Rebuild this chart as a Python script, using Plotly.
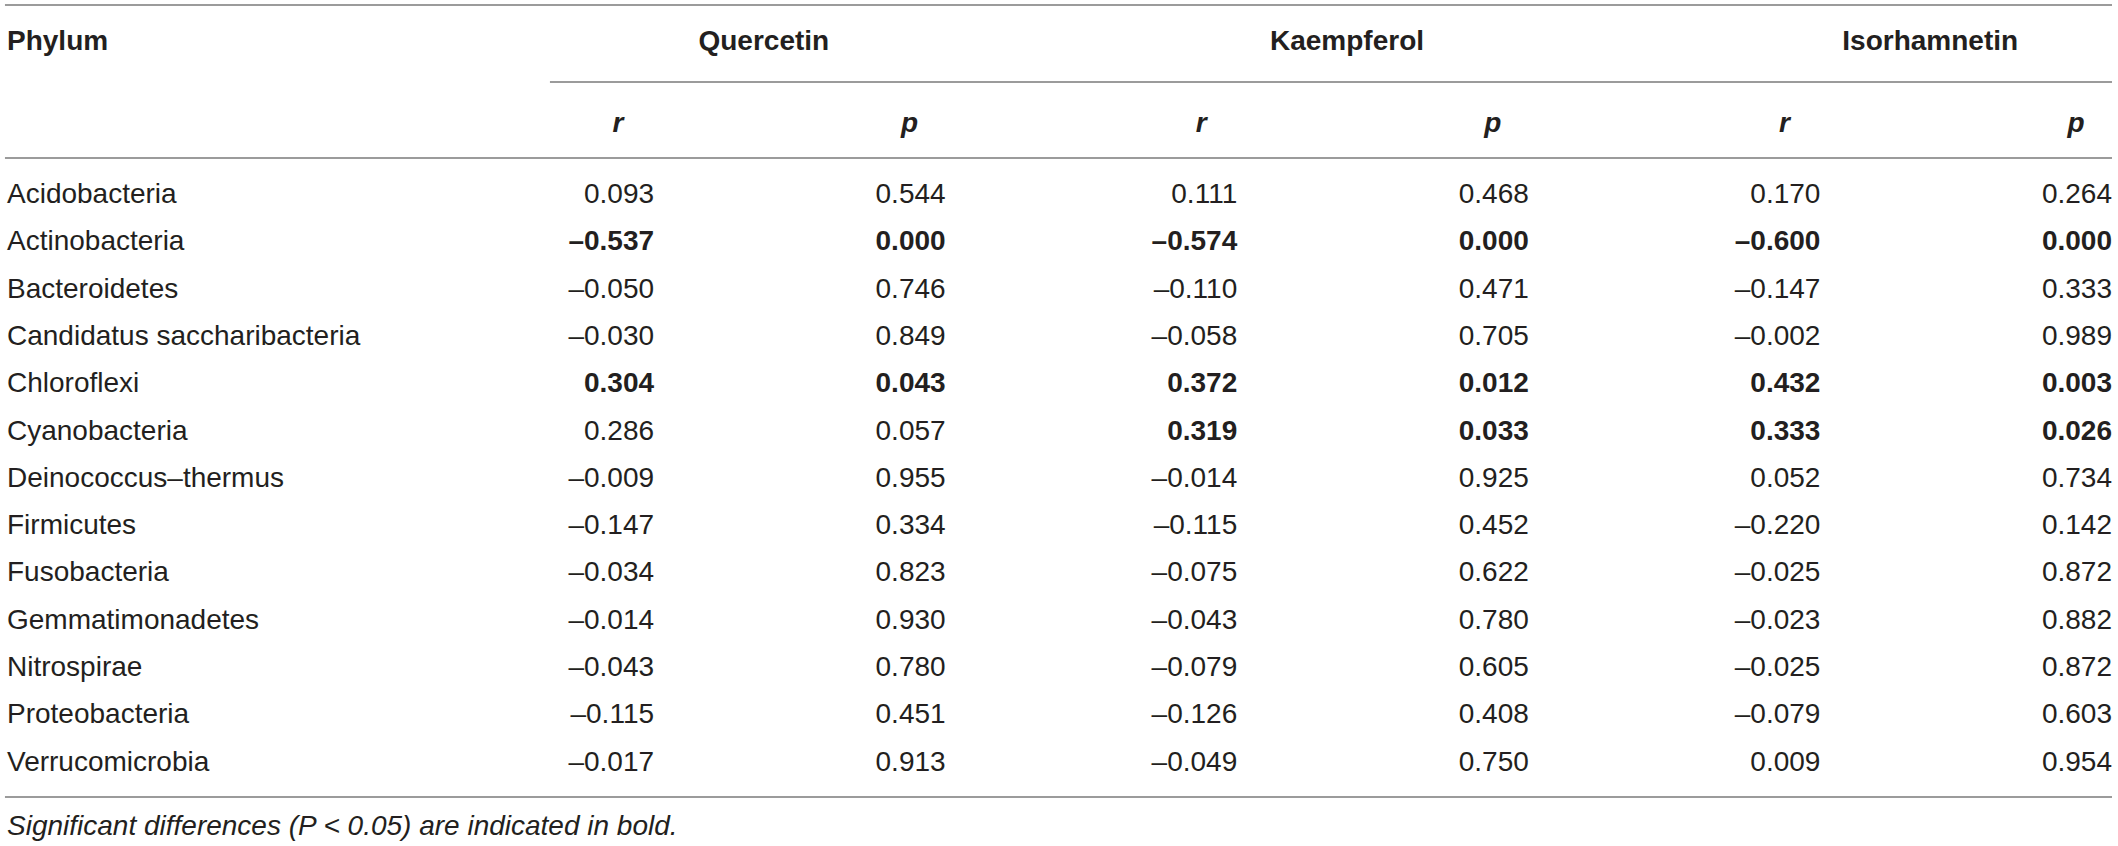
import plotly.graph_objects as go

# Daten der Tabelle
phyla = [
    "Acidobacteria", "Actinobacteria", "Bacteroidetes", "Candidatus saccharibacteria",
    "Chloroflexi", "Cyanobacteria", "Deinococcus–thermus", "Firmicutes",
    "Fusobacteria", "Gemmatimonadetes", "Nitrospirae", "Proteobacteria", "Verrucomicrobia",
]
compounds = ["Quercetin", "Kaempferol", "Isorhamnetin"]

quercetin_r = [0.093, -0.537, -0.050, -0.030, 0.304, 0.286, -0.009, -0.147, -0.034, -0.014, -0.043, -0.115, -0.017]
quercetin_p = [0.544, 0.000, 0.746, 0.849, 0.043, 0.057, 0.955, 0.334, 0.823, 0.930, 0.780, 0.451, 0.913]
kaempferol_r = [0.111, -0.574, -0.110, -0.058, 0.372, 0.319, -0.014, -0.115, -0.075, -0.043, -0.079, -0.126, -0.049]
kaempferol_p = [0.468, 0.000, 0.471, 0.705, 0.012, 0.033, 0.925, 0.452, 0.622, 0.780, 0.605, 0.408, 0.750]
isorhamnetin_r = [0.170, -0.600, -0.147, -0.002, 0.432, 0.333, 0.052, -0.220, -0.025, -0.023, -0.025, -0.079, 0.009]
isorhamnetin_p = [0.264, 0.000, 0.333, 0.989, 0.003, 0.026, 0.734, 0.142, 0.872, 0.882, 0.872, 0.603, 0.954]

footnote = "Significant differences (P < 0.05) are indicated in bold."

# Layout-Konstanten
FONT = "Liberation Sans, Arial, sans-serif"
TXT = "#231f20"
RULE = "#7a7a7a"
SIZE = 28
LEFT = -1.219  # x der ersten Spalte (Spaltenindex-Achse)

series = [(quercetin_r, quercetin_p), (kaempferol_r, kaempferol_p), (isorhamnetin_r, isorhamnetin_p)]
rows = list(range(len(phyla)))


def fmt(v, bold):
    s = f"{v:.3f}".replace("-", "–")
    return f"<b>{s}</b>" if bold else s


fig = go.Figure()

# Erste Spalte: Phylum
fig.add_trace(go.Scatter(
    x=[LEFT] * len(phyla), y=rows, text=phyla, mode="text",
    textposition="middle right", textfont=dict(family=FONT, size=SIZE, color=TXT),
    hoverinfo="skip", showlegend=False,
))

# Zahlenspalten (fett wenn p < 0.05)
col = 1
for r_vals, p_vals in series:
    sig = [p < 0.05 for p in p_vals]
    for vals in (r_vals, p_vals):
        fig.add_trace(go.Scatter(
            x=[col] * len(vals), y=rows, text=[fmt(v, b) for v, b in zip(vals, sig)],
            mode="text", textposition="middle left",
            textfont=dict(family=FONT, size=SIZE, color=TXT),
            hoverinfo="skip", showlegend=False,
        ))
        col += 1

# Kopfzeilen
head_font = dict(family=FONT, size=SIZE, color=TXT)
fig.add_trace(go.Scatter(
    x=[LEFT], y=[-3.235], text=["<b>Phylum</b>"], mode="text",
    textposition="middle right", textfont=head_font, hoverinfo="skip", showlegend=False,
))
sub_x = [c - 0.1235 for c in range(1, 7)]
fig.add_trace(go.Scatter(
    x=sub_x, y=[-1.5] * 6, text=["<b><i>r</i></b>", "<b><i>p</i></b>"] * 3, mode="text",
    textposition="middle center", textfont=head_font, hoverinfo="skip", showlegend=False,
))
fig.add_trace(go.Scatter(
    x=[(sub_x[2 * i] + sub_x[2 * i + 1]) / 2 for i in range(3)], y=[-3.235] * 3,
    text=[f"<b>{c}</b>" for c in compounds], mode="text",
    textposition="middle center", textfont=head_font, hoverinfo="skip", showlegend=False,
))

# Fussnote
fig.add_trace(go.Scatter(
    x=[LEFT], y=[13.36], text=[f"<i>{footnote}</i>"], mode="text",
    textposition="middle right", textfont=dict(family=FONT, size=SIZE, color=TXT),
    hoverinfo="skip", showlegend=False,
))

# Linien
for y0, x0 in [(-4.038, -1.226), (-2.41, 0.643), (-0.803, -1.226), (12.706, -1.226)]:
    fig.add_shape(type="line", x0=x0, x1=6.0, y0=y0, y1=y0,
                  line=dict(color=RULE, width=1.5))

fig.update_xaxes(visible=False, range=[-1.243, 6.0206], fixedrange=True)
fig.update_yaxes(visible=False, range=[13.742, -4.144], fixedrange=True)
fig.update_layout(
    width=2118, height=846, margin=dict(l=0, r=0, t=0, b=0),
    paper_bgcolor="white", plot_bgcolor="white",
)

fig.write_html(
    "out.html",
    config={"displayModeBar": False},
    post_script="document.body.style.margin='0';document.body.style.overflow='hidden';",
)
